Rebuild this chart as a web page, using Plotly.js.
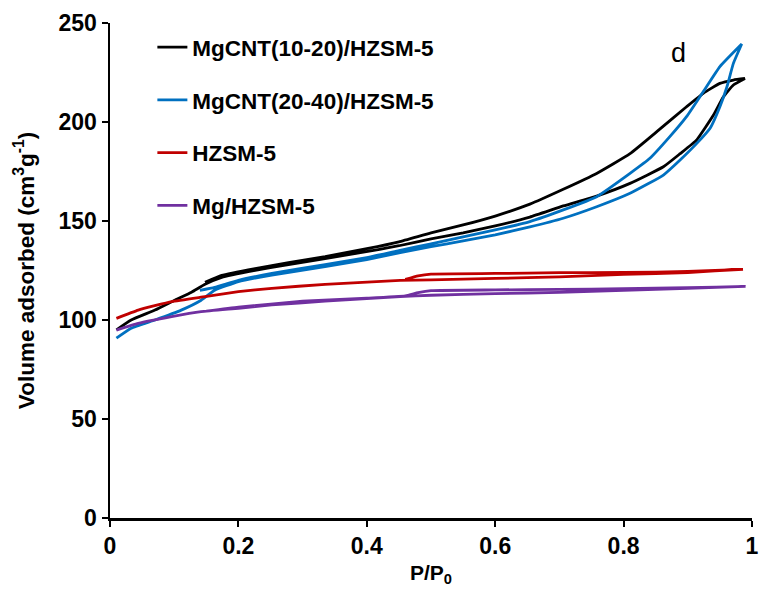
<!DOCTYPE html>
<html>
<head>
<meta charset="utf-8">
<script src="https://cdn.plot.ly/plotly-3.0.1.min.js"></script>
<style>
html,body{margin:0;padding:0;background:#fff;}
#chart{width:759px;height:591px;}
</style>
</head>
<body>
<div id="chart"></div>
<script>
// Series names
const seriesNames = ["MgCNT(10-20)/HZSM-5", "MgCNT(20-40)/HZSM-5", "HZSM-5", "Mg/HZSM-5"];

// MgCNT(10-20)/HZSM-5 (black)
const blackAdsX = [0.01,0.033,0.07,0.101,0.127,0.148,0.174,0.226,0.278,0.335,0.39,0.45,0.5,0.55,0.6,0.654,0.706,0.758,0.81,0.862,0.888,0.914,0.94,0.955,0.971,0.989];
const blackAdsY = [95,100,105,110,114,118,121.5,125,128,131,134,137.5,141,144,147.5,152,157.6,162.6,169,177.4,184,191,203.5,212.5,218.7,222];
const blackDesX = [0.989,0.971,0.95,0.924,0.898,0.855,0.81,0.758,0.706,0.654,0.6,0.55,0.5,0.45,0.4,0.335,0.278,0.226,0.174,0.148];
const blackDesY = [222,221.2,219.5,214.5,207.7,196,184,174,166,158.5,152.5,148,144,139.5,136,132,129,126,122.5,119];

// MgCNT(20-40)/HZSM-5 (blue)
const blueAdsX = [0.01,0.033,0.07,0.111,0.142,0.163,0.2,0.252,0.335,0.4,0.452,0.5,0.55,0.6,0.654,0.706,0.758,0.81,0.862,0.888,0.914,0.935,0.95,0.961,0.971,0.984];
const blueAdsY = [90.8,95.8,100,105,110,115,119.4,122.7,127,130.5,134,137,140,143,147,151.4,157.2,164,173.2,180.8,189.2,197,207.7,217.8,229.6,239.4];
const blueDesX = [0.984,0.95,0.924,0.898,0.872,0.841,0.81,0.758,0.706,0.654,0.6,0.55,0.5,0.45,0.4,0.335,0.252,0.2,0.163,0.14];
const blueDesY = [239.4,228,215.3,202.7,192.6,181.7,174.1,162.3,155.6,149.7,145.5,142,138.5,135,131.5,128,123.5,120,116.5,115];

// HZSM-5 (red)
const redAdsX = [0.01,0.044,0.096,0.148,0.2,0.252,0.335,0.452,0.5,0.6,0.7,0.8,0.9,0.986];
const redAdsY = [100.8,105,109.3,111.8,114.3,116,118,120,120.3,121,121.8,123,124,125.6];
const redDesX = [0.986,0.9,0.8,0.7,0.6,0.5,0.48,0.46];
const redDesY = [125.6,124.5,124,123.9,123.5,123.2,122.3,120.5];

// Mg/HZSM-5 (purple)
const purpleAdsX = [0.01,0.044,0.096,0.142,0.2,0.252,0.335,0.452,0.5,0.6,0.7,0.8,0.9,0.99];
const purpleAdsY = [94.9,98.3,101.7,104.2,105.9,107.6,109.5,111.8,112.5,113.3,114,115,116,117];
const purpleDesX = [0.99,0.9,0.8,0.7,0.6,0.5,0.48,0.46,0.4,0.3,0.2,0.15];
const purpleDesY = [117,116.3,115.8,115.5,115.2,114.8,113.8,112.2,111,109.5,106.5,104.5];

// Axis ticks
const xTicks = [0,0.2,0.4,0.6,0.8,1];
const xTickLabels = ["0","0.2","0.4","0.6","0.8","1"];
const yTicks = [0,50,100,150,200,250];
const yTickLabels = ["0","50","100","150","200","250"];

const colors = ["#000000","#0070C0","#C00000","#7030A0"];
const seriesData = [
  [blackAdsX, blackAdsY, blackDesX, blackDesY],
  [blueAdsX, blueAdsY, blueDesX, blueDesY],
  [redAdsX, redAdsY, redDesX, redDesY],
  [purpleAdsX, purpleAdsY, purpleDesX, purpleDesY]
];

const traces = seriesData.map((d, i) => ({
  type: "scatter",
  mode: "lines",
  name: "<b>" + seriesNames[i] + "</b>",
  x: d[0].concat(d[2]),
  y: d[1].concat(d[3]),
  line: {color: colors[i], width: 2.8, shape: "spline", smoothing: 0.4},
  legendgroup: "g" + i
}));

const fam = "Liberation Sans, Arial, sans-serif";
const bold = s => "<b>" + s + "</b>";

const layout = {
  width: 759, height: 591,
  margin: {l: 110, r: 7, t: 23, b: 73},
  paper_bgcolor: "#fff", plot_bgcolor: "#fff",
  font: {family: fam, color: "#000", size: 22},
  showlegend: true,
  legend: {
    x: 0.066, y: 0.994, xanchor: "left", yanchor: "top",
    font: {family: fam, size: 22.5, color: "#000"},
    tracegroupgap: 20.5,
    bgcolor: "rgba(0,0,0,0)"
  },
  xaxis: {
    range: [0, 1], tickvals: xTicks, ticktext: xTickLabels.map(bold),
    showline: true, linecolor: "#000", linewidth: 2.5,
    ticks: "outside", ticklen: 6, tickwidth: 2, tickcolor: "#000",
    showgrid: false, zeroline: false,
    tickfont: {family: fam, size: 23, color: "#000"},
    title: {text: "<b>P/P<sub>0</sub></b>", font: {family: fam, size: 21, color: "#000"}, standoff: 7}
  },
  yaxis: {
    range: [0, 250], tickvals: yTicks, ticktext: yTickLabels.map(bold),
    showline: true, linecolor: "#000", linewidth: 2.5,
    ticks: "outside", ticklen: 6, tickwidth: 2, tickcolor: "#000",
    showgrid: false, zeroline: false,
    tickfont: {family: fam, size: 23, color: "#000"},
    title: {text: "<b>Volume adsorbed (cm<sup>3</sup>g<sup>-1</sup>)</b>", font: {family: fam, size: 22.5, color: "#000"}, standoff: 18}
  },
  annotations: [{
    x: 0.885, y: 235, xref: "x", yref: "y", text: "d", showarrow: false,
    font: {family: fam, size: 27, color: "#000"}
  }]
};

Plotly.newPlot("chart", traces, layout, {displayModeBar: false, staticPlot: true});
</script>
</body>
</html>
